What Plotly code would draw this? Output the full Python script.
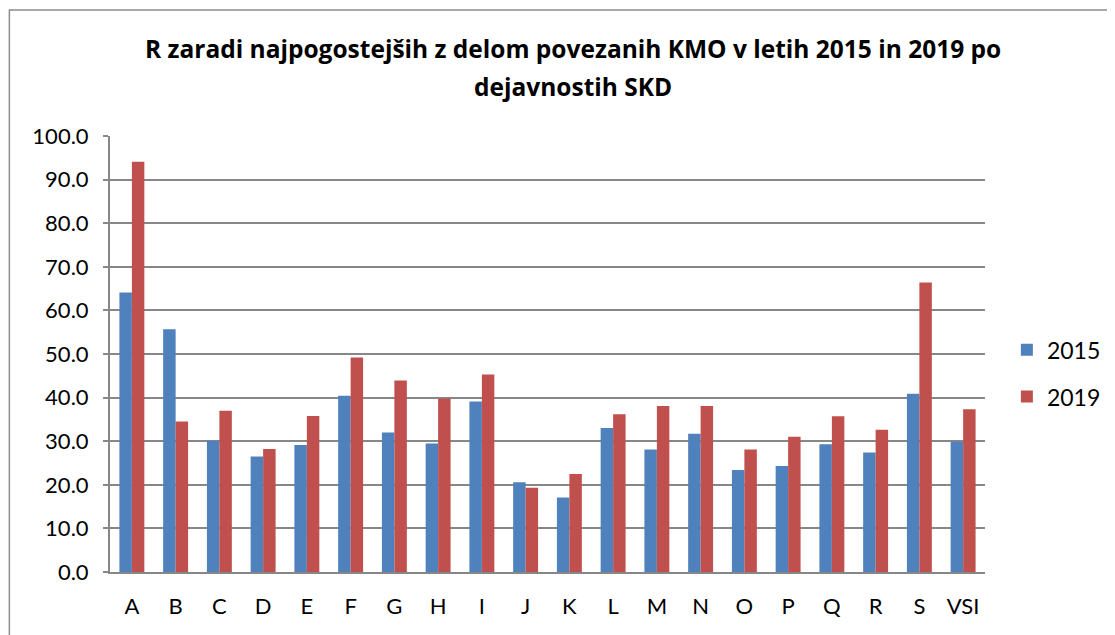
import plotly.graph_objects as go

# --- data ---
categories = ["A", "B", "C", "D", "E", "F", "G", "H", "I", "J",
              "K", "L", "M", "N", "O", "P", "Q", "R", "S", "VSI"]
values_2015 = [64.1, 55.7, 30.1, 26.5, 29.1, 40.4, 32.0, 29.5, 39.1, 20.6,
               17.1, 33.0, 28.1, 31.7, 23.4, 24.3, 29.3, 27.4, 40.9, 29.9]
values_2019 = [94.1, 34.5, 37.0, 28.2, 35.8, 49.2, 43.9, 39.8, 45.3, 19.3,
               22.5, 36.2, 38.1, 38.1, 28.1, 31.0, 35.7, 32.6, 66.4, 37.3]
series_names = ["2015", "2019"]
y_ticks = [0, 10, 20, 30, 40, 50, 60, 70, 80, 90, 100]

title_lines = [
    "R zaradi najpogostejših z delom povezanih KMO v letih 2015 in 2019 po",
    "dejavnostih SKD",
]

FONT = "Lato, 'Open Sans', sans-serif"
TITLE_FONT = "'Open Sans', Lato, sans-serif"
GRID = "#878787"

fig = go.Figure()
fig.add_trace(go.Bar(x = categories, y = values_2015, name = series_names[0],
                     legendgroup = "g2015",
                     marker = {"color": "#4F81BD", "line": {"width": 0}}))
fig.add_trace(go.Bar(x = categories, y = values_2019, name = series_names[1],
                     legendgroup = "g2019",
                     marker = {"color": "#C0504D", "line": {"width": 0}}))

fig.update_layout(
    width = 1115,
    height = 635,
    margin = {"l": 102, "r": 138, "t": 128, "b": 71},
    paper_bgcolor = "white",
    plot_bgcolor = "white",
    barmode = "group",
    bargap = 0.43,
    bargroupgap = 0,
    font = {"family": FONT, "size": 22, "color": "black"},
    showlegend = True,
    legend = {
        "x": 1.025, "y": 0.456, "xanchor": "left", "yanchor": "middle",
        "font": {"size": 23}, "tracegroupgap": 14, "itemwidth": 30,
        "bgcolor": "rgba(0,0,0,0)",
    },
    shapes = [
        dict(type = "rect", xref = "paper", yref = "paper",
             x0 = -0.115, x1 = 1.141, y0 = -0.25, y1 = 1.289,
             line = {"color": "#8c8c8c", "width": 1.5}, fillcolor = "rgba(0,0,0,0)",
             layer = "below"),
    ],
)

for i, line in enumerate(title_lines):
    fig.add_annotation(
        text = f"<b>{line}</b>", xref = "paper", yref = "paper",
        x = 0.529, y = [1.20, 1.113][i], xanchor = "center", yanchor = "middle",
        showarrow = False, font = {"family": TITLE_FONT, "size": 24.5, "color": "black"},
    )

fig.update_yaxes(
    range = [0, 100], tickvals = y_ticks, tickformat = ".1f",
    showgrid = True, gridcolor = GRID, gridwidth = 2,
    showline = True, linecolor = GRID, linewidth = 2,
    ticks = "outside", ticklen = 5, tickcolor = GRID, tickwidth = 2,
    zeroline = False, tickfont = {"size": 22}, ticklabelstandoff = 10,
)
fig.update_xaxes(
    showline = True, linecolor = GRID, linewidth = 2,
    showgrid = False, ticks = "", tickfont = {"size": 22}, ticklabelstandoff = 14,
)

fig.write_html("out.html")
